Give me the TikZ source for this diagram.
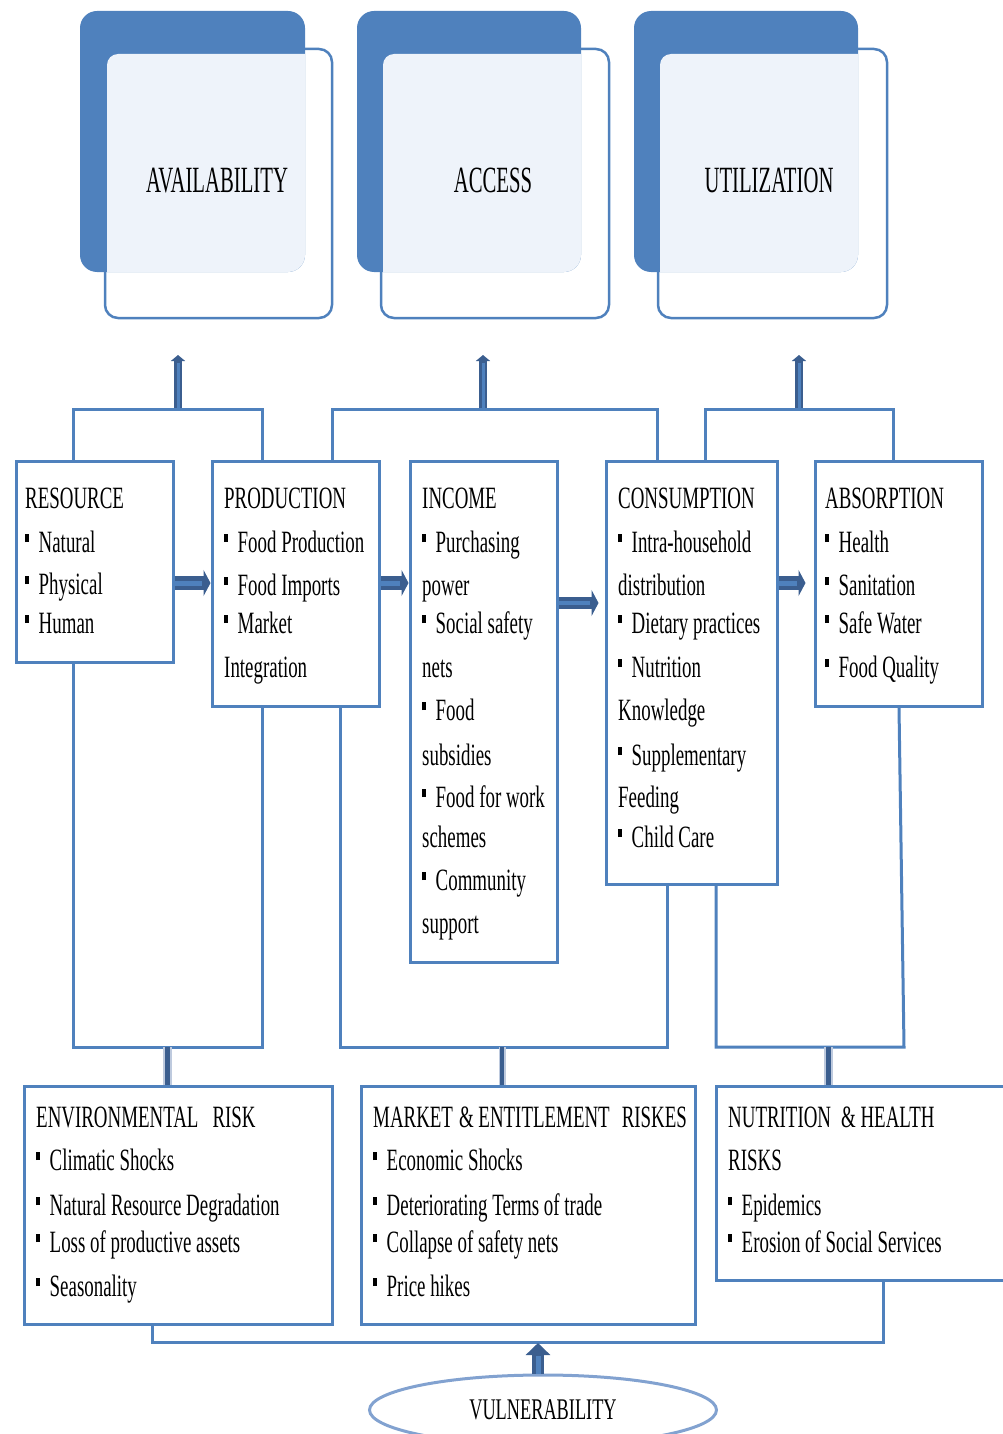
\documentclass[tikz,border=0pt]{standalone}
\usepackage{fontspec}
\usetikzlibrary{arrows.meta,fit,shapes.geometric}
\newfontfamily\bodyf{Liberation Serif}[FakeStretch=0.61]
\newfontfamily\topf{Liberation Serif}[FakeStretch=0.56]
\definecolor{bxblue}{RGB}{79,129,189}
\definecolor{arrdark}{RGB}{59,94,143}
\definecolor{cardlight}{RGB}{238,243,250}
\definecolor{ellblue}{RGB}{130,162,208}
\definecolor{halo}{RGB}{190,202,222}
\newcommand\bul{\rule[10pt]{4pt}{8.5pt}\hspace{9.5pt}}
\begin{document}
\begin{tikzpicture}[x=1pt,y=-1pt,
  mbox/.style={draw=bxblue, line width=3pt, fill=white, inner sep=0pt, rectangle},
  conn/.style={draw=bxblue, line width=3pt},
  backcard/.style={fill=bxblue, rounded corners=17pt, inner sep=0pt, rectangle},
  frontcard/.style={draw=bxblue, line width=2.5pt, fill=white, rounded corners=13pt, inner sep=0pt, rectangle},
  toptxt/.style={font=\topf\fontsize{37}{40}\selectfont, anchor=base, inner sep=0pt},
  txt/.style={font=\bodyf\fontsize{31}{36}\selectfont, anchor=base west, inner sep=0pt},
  fatv/.style={line width=8pt, draw=arrdark, -{Triangle[width=14pt,length=6pt]}},
  fatvcore/.style={line width=3pt, draw=bxblue, shorten >=8pt},
  fath/.style={line width=14pt, draw=arrdark, -{Triangle[width=26pt,length=7pt]}},
  fathcore/.style={line width=5pt, draw=bxblue, shorten >=9pt},
  riskhalo/.style={line width=9pt, draw=halo},
  riskcore/.style={line width=5pt, draw=arrdark},
]
\useasboundingbox (0,0) rectangle (1002,1434);

% ---------- top cards ----------
\foreach \bl/\br/\fl/\fr/\nm/\lab/\cx in {80/305/105/332/av/AVAILABILITY/217, 357/581/381/609/ac/ACCESS/493, 634/858/658/887/ut/UTILIZATION/769}{
  \node[frontcard, fit={(\fl,49)(\fr,318)}] (\nm-f) {};
  \node[backcard, fit={(\bl,11)(\br,272)}] (\nm-b) {};
  \begin{scope}
    \clip[rounded corners=17pt] (\bl,11) rectangle (\br,272);
    \fill[cardlight, rounded corners=11pt] (\fl+2,54) rectangle (\fr-2,316);
  \end{scope}
  \node[toptxt] (\nm-t) at (\cx,193) {\lab};
}

% ---------- coordinates ----------
\coordinate (t1l) at (73,409);  \coordinate (t1r) at (262,409); \coordinate (t1m) at (178,409); \coordinate (t1a) at (178,355);
\coordinate (t2l) at (332,409); \coordinate (t2r) at (657,409); \coordinate (t2m) at (483,409); \coordinate (t2a) at (483,355);
\coordinate (t3l) at (705,409); \coordinate (t3r) at (893,409); \coordinate (t3m) at (799,409); \coordinate (t3a) at (799,355);
\coordinate (b1l) at (73,1047);  \coordinate (b1r) at (262,1047); \coordinate (b1m) at (167,1047);
\coordinate (b2l) at (340,1047); \coordinate (b2r) at (667,1047); \coordinate (b2m) at (502,1047);
\coordinate (b3l) at (716,1047); \coordinate (b3r) at (904,1047); \coordinate (b3m) at (828,1047);
\coordinate (a3) at (899,706);
\coordinate (v1l) at (152,1342); \coordinate (v1r) at (883,1342); \coordinate (v1m) at (538,1342);
\coordinate (h1) at (0,583); \coordinate (h2) at (0,603);

% ---------- boxes (placed first for anchors) ----------
\node[mbox, fit={(16,461)(173,662)}] (res) {};
\node[mbox, fit={(212,461)(379,706)}] (prod) {};
\node[mbox, fit={(410,461)(557,962)}] (inc) {};
\node[mbox, fit={(606,461)(777,884)}] (cons) {};
\node[mbox, fit={(815,461)(982,706)}] (abs) {};
\node[mbox, fit={(24,1086)(332,1324)}] (env) {};
\node[mbox, fit={(361,1086)(695,1324)}] (mkt) {};
\node[mbox, fit={(716,1086)(1014,1280)}] (nut) {};
\node[draw=ellblue, line width=3pt, ellipse, minimum width=347pt, minimum height=70pt, inner sep=0pt,
      font=\bodyf\fontsize{30}{34}\selectfont] (vul) at (543,1410) {VULNERABILITY};

% ---------- top brackets ----------
\draw[conn] (res.north -| t1l) -- (t1l) -- (t1r) -- (prod.north -| t1r);
\draw[conn] (prod.north -| t2l) -- (t2l) -- (t2r) -- (cons.north -| t2r);
\draw[conn] (cons.north -| t3l) -- (t3l) -- (t3r) -- (abs.north -| t3r);
\foreach \m/\a in {t1m/t1a, t2m/t2a, t3m/t3a}{
  \draw[fatv] ([yshift=1.5pt]\m) -- (\a);
  \draw[fatvcore] ([yshift=1.5pt]\m) -- (\a);
}

% ---------- lower brackets ----------
\draw[conn] (res.south -| b1l) -- (b1l) -- (b1r) -- (prod.south -| b1r);
\draw[conn] (prod.south -| b2l) -- (b2l) -- (b2r) -- (cons.south -| b2r);
\draw[conn] (cons.south -| b3l) -- (b3l) -- (b3r) -- (abs.south -| a3);
\draw[riskhalo] (env.north -| b1m) -- (b1m);
\draw[riskcore] (env.north -| b1m) -- (b1m);
\draw[riskhalo, line width=7pt] (mkt.north -| b2m) -- (b2m);
\draw[riskcore, line width=4pt] (mkt.north -| b2m) -- (b2m);
\draw[riskhalo] (nut.north -| b3m) -- (b3m);
\draw[riskcore] (nut.north -| b3m) -- (b3m);

% ---------- bottom bracket ----------
\draw[conn] (env.south -| v1l) -- (v1l) -- (v1r) -- (nut.south -| v1r);
\draw[line width=12pt, draw=arrdark, -{Triangle[width=24pt,length=12pt]}] (vul.north -| v1m) -- ([yshift=-1pt]v1m);
\draw[line width=5pt, draw=bxblue, shorten >=13pt] (vul.north -| v1m) -- ([yshift=-1pt]v1m);

% ---------- horizontal arrows ----------
\draw[fath] (res.east |- h1) -- (prod.west |- h1);
\draw[fathcore] (res.east |- h1) -- (prod.west |- h1);
\draw[fath] (prod.east |- h1) -- (inc.west |- h1);
\draw[fathcore] (prod.east |- h1) -- (inc.west |- h1);
\draw[fath, line width=12pt] (inc.east |- h2) -- ([xshift=-6pt]cons.west |- h2);
\draw[fathcore, line width=4pt] (inc.east |- h2) -- ([xshift=-6pt]cons.west |- h2);
\draw[fath] (cons.east |- h1) -- ([xshift=-8pt]abs.west |- h1);
\draw[fathcore] (cons.east |- h1) -- ([xshift=-8pt]abs.west |- h1);

% ---------- texts ----------
\foreach \yy/\q [count=\i] in {508/RESOURCE, 552/\bul Natural, 594/\bul Physical, 633/\bul Human}
  \node[txt] (res-\i) at (25,\yy) {\q};
\foreach \yy/\q [count=\i] in {508/PRODUCTION, 552/\bul Food Production, 595/\bul Food Imports, 633/\bul Market, 677/Integration}
  \node[txt] (prod-\i) at (224,\yy) {\q};
\foreach \yy/\q [count=\i] in {508/INCOME, 552/\bul Purchasing, 595/power, 633/\bul Social safety, 677/nets, 720/\bul Food, 765/subsidies, 807/\bul Food for work, 847/schemes, 890/\bul Community, 933/support}
  \node[txt] (inc-\i) at (422,\yy) {\q};
\foreach \yy/\q [count=\i] in {508/CONSUMPTION, 552/\bul Intra-household, 595/distribution, 633/\bul Dietary practices, 677/\bul Nutrition, 720/Knowledge, 765/\bul Supplementary, 807/Feeding, 847/\bul Child Care}
  \node[txt] (cons-\i) at (618,\yy) {\q};
\foreach \yy/\q [count=\i] in {508/ABSORPTION, 552/\bul Health, 595/\bul Sanitation, 633/\bul Safe Water, 677/\bul Food Quality}
  \node[txt] (abs-\i) at (825,\yy) {\q};
\foreach \yy/\q [count=\i] in {1127/ENVIRONMENTAL\hspace{14pt}RISK, 1170/\bul Climatic Shocks, 1215/\bul Natural Resource Degradation, 1252/\bul Loss of productive assets, 1296/\bul Seasonality}
  \node[txt] (env-\i) at (36,\yy) {\q};
\foreach \yy/\q [count=\i] in {1127/MARKET\hspace{6pt}\& ENTITLEMENT\hspace{12pt}RISKES, 1170/\bul Economic Shocks, 1215/\bul Deteriorating Terms of trade, 1252/\bul Collapse of safety nets, 1296/\bul Price hikes}
  \node[txt] (mkt-\i) at (373,\yy) {\q};
\foreach \yy/\q [count=\i] in {1127/NUTRITION\hspace{10pt}\& HEALTH, 1170/RISKS, 1215/\bul Epidemics, 1252/\bul Erosion of Social Services}
  \node[txt] (nut-\i) at (728,\yy) {\q};
\end{tikzpicture}
\end{document}
